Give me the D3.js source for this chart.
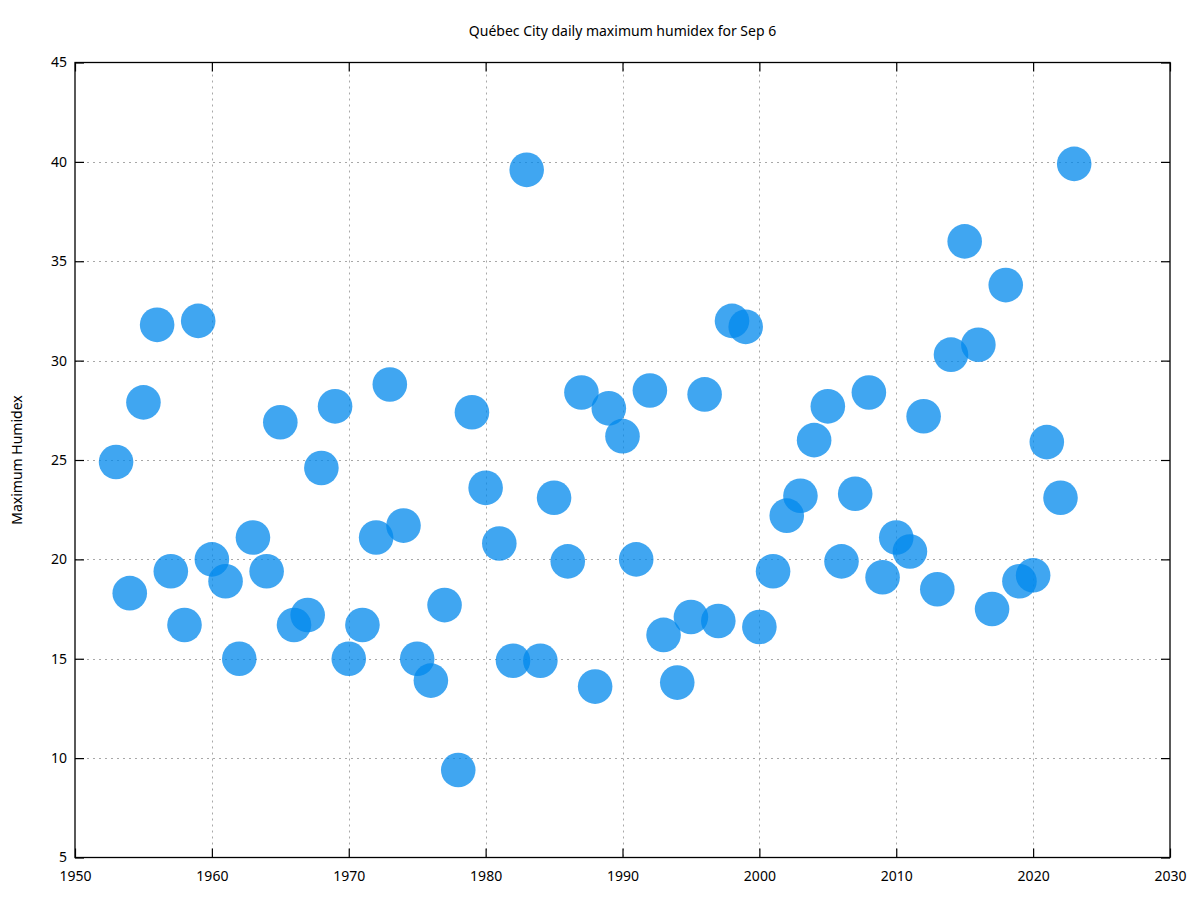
<!DOCTYPE html>
<html>
<head>
<meta charset="utf-8">
<script src="https://cdn.jsdelivr.net/npm/d3@7"></script>
<style>
  body { margin: 0; background: #fff; }
  svg { display: block; font-family: "Noto Sans", "Open Sans", sans-serif; }
</style>
</head>
<body>
<svg id="chart" width="1200" height="900"></svg>
<script>
const title = "Québec City daily maximum humidex for Sep 6";
const yLabel = "Maximum Humidex";
const years = [1953,1954,1955,1956,1957,1958,1959,1960,1961,1962,1963,1964,1965,1966,1967,1968,1969,1970,1971,1972,1973,1974,1975,1976,1977,1978,1979,1980,1981,1982,1983,1984,1985,1986,1987,1988,1989,1990,1991,1992,1993,1994,1995,1996,1997,1998,1999,2000,2001,2002,2003,2004,2005,2006,2007,2008,2009,2010,2011,2012,2013,2014,2015,2016,2017,2018,2019,2020,2021,2022,2023];
const humidex = [24.9,18.3,27.9,31.8,19.4,16.7,32.0,20.0,18.9,15.0,21.1,19.4,26.9,16.7,17.2,24.6,27.7,15.0,16.7,21.1,28.8,21.7,15.0,13.9,17.7,9.4,27.4,23.6,20.8,14.9,39.6,14.9,23.1,19.9,28.4,13.6,27.6,26.2,20.0,28.5,16.2,13.8,17.1,28.3,16.9,32.0,31.7,16.6,19.4,22.2,23.2,26.0,27.7,19.9,23.3,28.4,19.1,21.1,20.4,27.2,18.5,30.3,36.0,30.8,17.5,33.8,18.9,19.2,25.9,23.1,39.9];
const xTicks = [1950,1960,1970,1980,1990,2000,2010,2020,2030];
const yTicks = [5,10,15,20,25,30,35,40,45];

const svg = d3.select("#chart");
const L = 75, R = 1170, T = 62.5, B = 857.5;
const x = d3.scaleLinear().domain([1950, 2030]).range([L, R]);
const y = d3.scaleLinear().domain([5, 45]).range([B, T]);

// grid
const grid = svg.append("g").attr("stroke", "#a8a8a8").attr("stroke-width", 1).attr("stroke-dasharray", "2,4");
grid.selectAll("line.vx").data(xTicks.slice(1, -1)).join("line")
  .attr("x1", d => Math.round(x(d)) + 0.5).attr("x2", d => Math.round(x(d)) + 0.5)
  .attr("y1", T).attr("y2", B);
grid.selectAll("line.hy").data(yTicks.slice(1, -1)).join("line")
  .attr("y1", d => Math.round(y(d)) + 0.5).attr("y2", d => Math.round(y(d)) + 0.5)
  .attr("x1", L).attr("x2", R);

// points
svg.append("g").selectAll("circle").data(years).join("circle")
  .attr("cx", (d) => x(d))
  .attr("cy", (d, i) => y(humidex[i]))
  .attr("r", 17.3)
  .attr("fill", "rgb(0,136,236)")
  .attr("fill-opacity", 0.75);

// axes (inward ticks, mirrored)
const tickLen = 9;
const fmt = d3.format("d");
const axB = svg.append("g").attr("transform", `translate(0,${B})`)
  .call(d3.axisBottom(x).tickValues(xTicks).tickFormat(fmt).tickSizeInner(-tickLen).tickSizeOuter(0).tickPadding(14));
const axT = svg.append("g").attr("transform", `translate(0,${T})`)
  .call(d3.axisTop(x).tickValues(xTicks).tickFormat("").tickSizeInner(-tickLen).tickSizeOuter(0));
const axL = svg.append("g").attr("transform", `translate(${L},0)`)
  .call(d3.axisLeft(y).tickValues(yTicks).tickFormat(fmt).tickSizeInner(-tickLen).tickSizeOuter(0).tickPadding(8));
const axR = svg.append("g").attr("transform", `translate(${R},0)`)
  .call(d3.axisRight(y).tickValues(yTicks).tickFormat("").tickSizeInner(-tickLen).tickSizeOuter(0));
[axB, axT, axL, axR].forEach(a => {
  a.select(".domain").remove();
  a.selectAll(".tick line").attr("stroke", "#000").attr("stroke-width", 1.2);
  a.selectAll("text").attr("fill", "#000").style("font-size", "14px").style("font-family", "'Noto Sans', 'Open Sans', sans-serif");
});

// border
svg.append("rect").attr("x", L).attr("y", T).attr("width", R - L).attr("height", B - T)
  .attr("fill", "none").attr("stroke", "#000").attr("stroke-width", 1.3);

// title
svg.append("text").attr("x", (L + R) / 2).attr("y", 36).attr("text-anchor", "middle")
  .style("font-size", "14px").attr("fill", "#000").text(title);

// y label
svg.append("text").attr("transform", `translate(22,${(T + B) / 2}) rotate(-90)`)
  .attr("text-anchor", "middle").style("font-size", "14px").attr("fill", "#000").text(yLabel);
</script>
</body>
</html>
